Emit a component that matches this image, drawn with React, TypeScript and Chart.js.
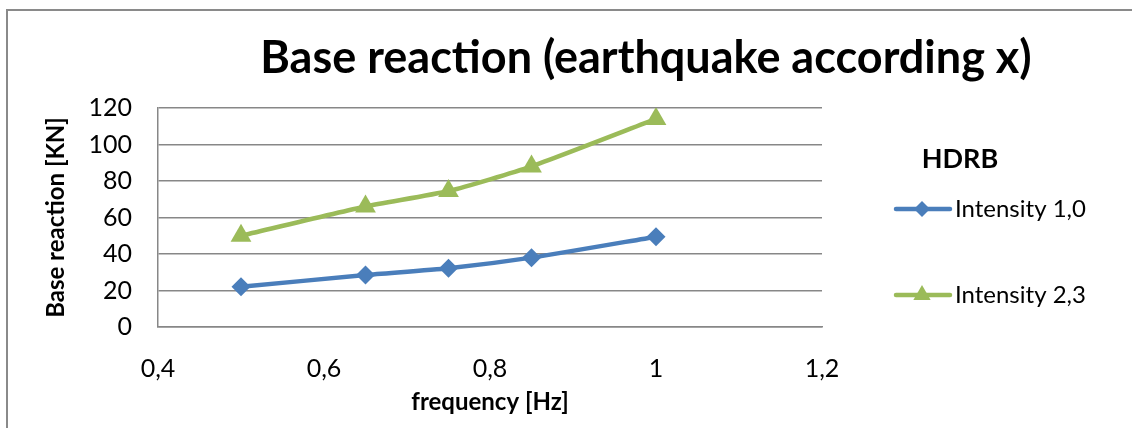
import React, { useEffect, useRef } from "react";
import { Chart, registerables } from "chart.js";
import { drawPoint } from "chart.js/helpers";

Chart.register(...registerables);

const frequencies = [0.5, 0.65, 0.75, 0.85, 1.0];
const intensity10 = [22, 28.5, 32.2, 38, 49.5];
const intensity23 = [50, 66, 74.5, 88, 114];
const seriesNames = ["Intensity 1,0", "Intensity 2,3"];
const chartTitle = "Base reaction (earthquake according x)";
const legendTitle = "HDRB";
const xAxisTitle = "frequency [Hz]";
const yAxisTitle = "Base reaction [KN]";

const FONT = "Lato, 'Open Sans', sans-serif";
const BLUE = "#4A7EBB";
const GREEN = "#9BBB59";
const GRID = "#878787";

const fmtComma = (v: number) => String(Number(v.toFixed(1))).replace(".", ",");

const decorPlugin = {
  id: "decor",
  beforeDraw(chart: any) {
    const { ctx } = chart;
    ctx.save();
    ctx.fillStyle = "#ffffff";
    ctx.fillRect(0, 0, chart.width, chart.height);
    ctx.strokeStyle = "#8a8a8a";
    ctx.lineWidth = 2;
    ctx.beginPath();
    ctx.moveTo(7, chart.height + 2);
    ctx.lineTo(7, 10);
    ctx.lineTo(chart.width + 2, 10);
    ctx.stroke();
    ctx.restore();
  },
  afterDraw(chart: any) {
    const { ctx } = chart;
    ctx.save();
    // chart title
    ctx.fillStyle = "#000";
    ctx.textAlign = "center";
    ctx.textBaseline = "middle";
    ctx.font = `bold 45px ${FONT}`;
    ctx.fillText(chartTitle, 646, 58);

    // legend
    ctx.font = `bold 27px ${FONT}`;
    ctx.fillText(legendTitle, 960, 159);
    const rows = [209, 295];
    chart.data.datasets.forEach((ds: any, i: number) => {
      const y = rows[i];
      ctx.strokeStyle = ds.borderColor;
      ctx.lineWidth = ds.borderWidth;
      ctx.lineCap = "round";
      ctx.beginPath();
      ctx.moveTo(896, y);
      ctx.lineTo(950, y);
      ctx.stroke();
      ctx.fillStyle = ds.borderColor;
      drawPoint(
        ctx,
        {
          pointStyle: ds.pointStyle,
          radius: ds.pointStyle === "triangle" ? 10 : 8,
          rotation: 0,
          borderWidth: 0,
        },
        922,
        y
      );
      ctx.fillStyle = "#000";
      ctx.textAlign = "left";
      ctx.textBaseline = "middle";
      ctx.font = `24px ${FONT}`;
      ctx.fillText(seriesNames[i], 955, y);
    });
    ctx.restore();
  },
};

export default function App() {
  const canvasRef = useRef<HTMLCanvasElement | null>(null);

  useEffect(() => {
    if (!canvasRef.current) return;
    const chart = new Chart(canvasRef.current, {
      type: "line",
      data: {
        datasets: [
          {
            label: seriesNames[0],
            data: frequencies.map((f, i) => ({ x: f, y: intensity10[i] })),
            borderColor: BLUE,
            backgroundColor: BLUE,
            pointBackgroundColor: BLUE,
            pointBorderColor: BLUE,
            borderWidth: 4.5,
            pointStyle: "rectRot",
            pointRadius: 9.5,
            pointBorderWidth: 0,
            tension: 0.2,
          },
          {
            label: seriesNames[1],
            data: frequencies.map((f, i) => ({ x: f, y: intensity23[i] })),
            borderColor: GREEN,
            backgroundColor: GREEN,
            pointBackgroundColor: GREEN,
            pointBorderColor: GREEN,
            borderWidth: 4.5,
            pointStyle: "triangle",
            pointRadius: 12,
            pointBorderWidth: 0,
            tension: 0.2,
          },
        ],
      },
      options: {
        responsive: false,
        animation: false,
        layout: { padding: { left: 0, right: 310, top: 108, bottom: 0 } },
        plugins: {
          legend: { display: false },
          title: { display: false },
          tooltip: { enabled: false },
        },
        scales: {
          x: {
            type: "linear",
            min: 0.4,
            max: 1.2,
            ticks: {
              stepSize: 0.2,
              callback: (v: any) => fmtComma(Number(v)),
              color: "#000",
              font: { family: FONT, size: 25 },
              padding: 19,
              maxRotation: 0,
            },
            grid: { display: false },
            border: { display: true, color: GRID, width: 1.5 },
            title: {
              display: true,
              text: xAxisTitle,
              color: "#000",
              font: { family: FONT, size: 24, weight: "bold" },
              padding: { top: 0, bottom: 11 },
            },
            afterFit: (scale: any) => {
              scale.height = 101;
            },
          },
          y: {
            type: "linear",
            min: 0,
            max: 120,
            ticks: {
              stepSize: 20,
              color: "#000",
              font: { family: FONT, size: 25 },
              padding: 26,
            },
            grid: { color: GRID, lineWidth: 1.5, drawTicks: false },
            border: { display: true, color: GRID, width: 1.5 },
            title: {
              display: true,
              text: yAxisTitle,
              color: "#000",
              font: { family: FONT, size: 24, weight: "bold" },
              padding: { top: 42, bottom: 0 },
            },
            afterFit: (scale: any) => {
              scale.width = 158;
            },
          },
        },
      },
      plugins: [decorPlugin],
    } as any);
    return () => chart.destroy();
  }, []);

  return (
    <div style={{ position: "fixed", left: 0, top: 0, width: 1132, height: 428, background: "#fff" }}>
      <canvas ref={canvasRef} width={1132} height={428} style={{ display: "block" }} />
    </div>
  );
}
